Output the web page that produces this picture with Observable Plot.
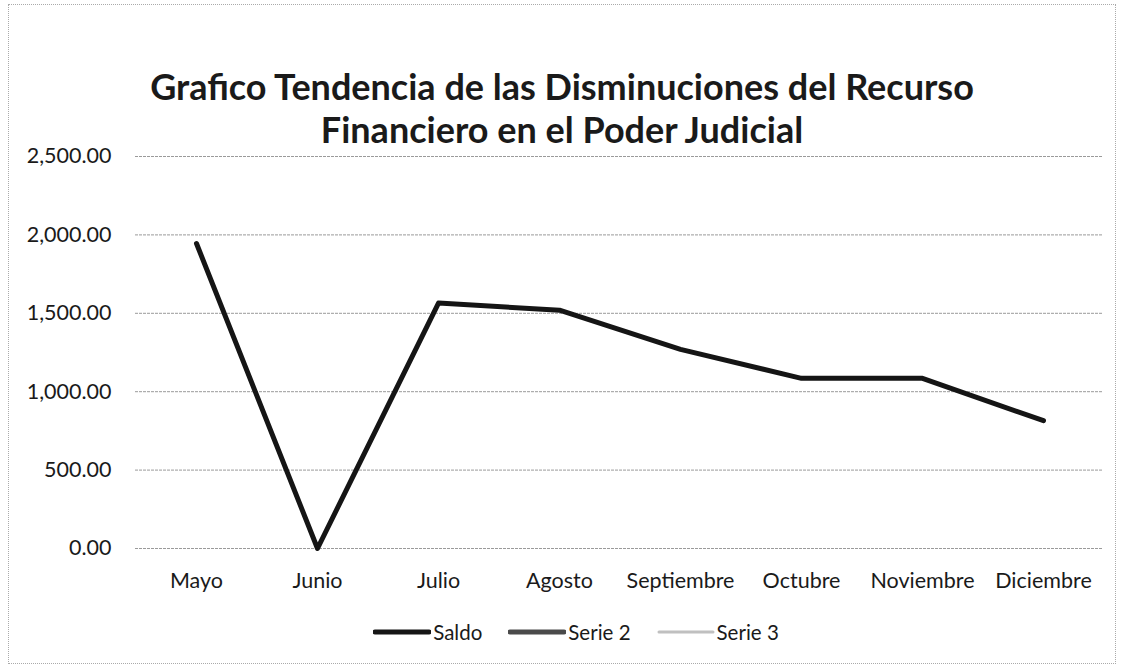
<!DOCTYPE html>
<html>
<head>
<meta charset="utf-8">
<script src="https://cdn.jsdelivr.net/npm/d3@7"></script>
<script src="https://cdn.jsdelivr.net/npm/@observablehq/plot@0.6"></script>
<style>
  html, body { margin: 0; padding: 0; background: #fff; }
  #wrap { position: relative; width: 1124px; height: 671px; overflow: hidden; font-family: Lato, "Open Sans", sans-serif; color: #1a1a1a; }
  #frame { position: absolute; left: 8px; top: 4px; width: 1108px; height: 660px; border: 1px dotted #aaa; box-sizing: border-box; }
  #title { position: absolute; left: 0; top: 65px; width: 1124px; text-align: center; font-weight: 700; font-size: 36px; line-height: 43px; color: #1a1a1a; }
  #chart { position: absolute; left: 0; top: 130px; }
  #legend { position: absolute; left: 14px; top: 620px; width: 1124px; display: flex; justify-content: center; align-items: center; font-size: 20.5px; }
  .item { display: flex; align-items: center; margin: 0 13px; }
  .item svg { margin-right: 2px; }
</style>
</head>
<body>
<div id="wrap">
  <div id="frame"></div>
  <div id="title">Grafico Tendencia de las Disminuciones del Recurso<br>Financiero en el Poder Judicial</div>
  <div id="chart"></div>
  <div id="legend"></div>
</div>
<script>
const months = ["Mayo", "Junio", "Julio", "Agosto", "Septiembre", "Octubre", "Noviembre", "Diciembre"];
const saldo = [1945, 0, 1565, 1520, 1270, 1085, 1085, 815];
const yTicks = [0, 500, 1000, 1500, 2000, 2500];
const seriesNames = ["Saldo", "Serie 2", "Serie 3"];
const seriesColors = ["#151515", "#4a4a4a", "#c0c0c0"];
const seriesWidths = [5, 5, 3];

const data = months.map((m, i) => ({month: m, value: saldo[i]}));

const chart = Plot.plot({
  width: 1124,
  height: 465,
  marginLeft: 135,
  marginRight: 21,
  marginTop: 26,
  marginBottom: 47,
  style: {fontFamily: "Lato, 'Open Sans', sans-serif", fontSize: "21.5px", color: "#1a1a1a", background: "transparent"},
  x: {type: "point", domain: months, padding: 0.5, label: null, tickSize: 0, tickPadding: 24},
  y: {domain: [0, 2500], ticks: yTicks, tickFormat: d3.format(",.2f"), label: null, tickSize: 0, tickPadding: 24},
  marks: [
    Plot.ruleY(yTicks, {stroke: "#9a9a9a", strokeWidth: 1, strokeDasharray: "3,1"}),
    Plot.line(data, {x: "month", y: "value", stroke: seriesColors[0], strokeWidth: 5, strokeLinejoin: "round", strokeLinecap: "round"})
  ]
});
document.getElementById("chart").appendChild(chart);

const legend = document.getElementById("legend");
seriesNames.forEach((name, i) => {
  const item = document.createElement("div");
  item.className = "item";
  item.innerHTML = `<svg width="58" height="10"><line x1="2" y1="5" x2="56" y2="5" stroke="${seriesColors[i]}" stroke-width="${seriesWidths[i]}" stroke-linecap="round"/></svg><span>${name}</span>`;
  legend.appendChild(item);
});
</script>
</body>
</html>
